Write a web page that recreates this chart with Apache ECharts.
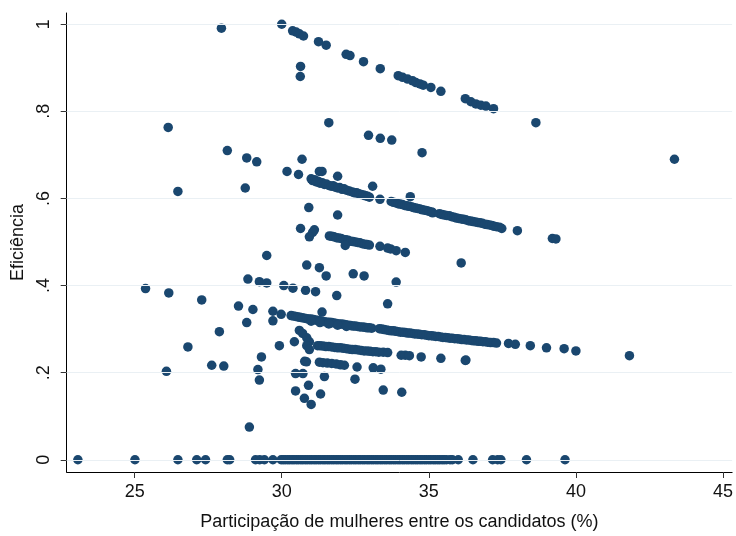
<!DOCTYPE html>
<html>
<head>
<meta charset="utf-8">
<script src="https://cdn.jsdelivr.net/npm/echarts@6/dist/echarts.min.js"></script>
<style>
html,body{margin:0;padding:0;background:#fff;}
#chart{width:736px;height:536px;}
</style>
</head>
<body>
<div id="chart"></div>
<script>
// Tick labels
var xTicks = [25, 30, 35, 40, 45];
var yTicks = [0, 0.2, 0.4, 0.6, 0.8, 1];
var yTickLabels = {"0": "0", "0.2": ".2", "0.4": ".4", "0.6": ".6", "0.8": ".8", "1": "1"};

// Points [participation %, efficiency]
var topLine = [[30.0,1.0],[30.37,0.985],[30.49,0.982],[30.6,0.978],[30.74,0.973],[31.25,0.96],[31.51,0.952],[32.19,0.931],[32.32,0.928],[32.78,0.914],[33.35,0.898],[33.96,0.882],[34.11,0.878],[34.28,0.874],[34.45,0.87],[34.56,0.866],[34.7,0.863],[34.81,0.86],[35.07,0.855],[35.41,0.846],[36.24,0.829],[36.43,0.822],[36.6,0.817],[36.77,0.814],[36.94,0.812],[37.2,0.806]];

var band64 = [[31.0,0.645],[31.05,0.641],[31.12,0.643],[31.18,0.638],[31.25,0.639],[31.3,0.635],[31.38,0.636],[31.45,0.632],[31.52,0.633],[31.6,0.63],[31.68,0.628],[31.75,0.629],[31.82,0.626],[31.9,0.624],[31.97,0.625],[32.05,0.621],[32.12,0.622],[32.2,0.619],[32.3,0.617],[32.4,0.615],[32.48,0.613],[32.55,0.613],[32.62,0.611],[32.7,0.609],[32.78,0.608],[32.85,0.606],[32.92,0.605],[32.98,0.603],[33.34,0.598],[33.72,0.593],[33.8,0.591],[33.88,0.59],[33.95,0.588],[34.02,0.587],[34.1,0.586],[34.18,0.584],[34.25,0.583],[34.32,0.582],[34.4,0.581],[34.48,0.579],[34.55,0.578],[34.62,0.577],[34.7,0.576],[34.78,0.574],[34.86,0.573],[34.94,0.572],[35.02,0.57],[35.1,0.569],[35.13,0.567],[35.36,0.565],[35.45,0.563],[35.52,0.562],[35.6,0.561],[35.7,0.56],[35.78,0.558],[35.86,0.557],[35.94,0.555],[36.02,0.554],[36.1,0.553],[36.18,0.552],[36.26,0.551],[36.34,0.549],[36.42,0.548],[36.5,0.547],[36.58,0.546],[36.66,0.545],[36.74,0.544],[36.82,0.543],[36.9,0.541],[36.98,0.54],[37.06,0.539],[37.14,0.538],[37.22,0.536],[37.3,0.535],[37.4,0.534],[37.48,0.531],[38.01,0.526],[39.2,0.508],[39.32,0.507]];

var band51 = [[31.62,0.514],[31.7,0.513],[31.78,0.512],[31.86,0.51],[31.94,0.509],[32.02,0.508],[32.1,0.506],[32.18,0.505],[32.26,0.504],[32.34,0.502],[32.42,0.501],[32.5,0.5],[32.58,0.499],[32.66,0.498],[32.74,0.496],[32.82,0.495],[32.9,0.494],[32.98,0.493],[32.16,0.492],[33.34,0.49],[33.6,0.486],[33.7,0.484],[33.89,0.48],[34.2,0.476]];

var band33 = [[30.32,0.331],[30.4,0.33],[30.48,0.329],[30.55,0.328],[30.62,0.327],[30.7,0.326],[30.78,0.325],[30.85,0.324],[30.92,0.323],[31.0,0.323],[31.08,0.322],[31.15,0.321],[31.22,0.32],[31.3,0.319],[31.38,0.318],[31.46,0.317],[31.54,0.316],[31.62,0.316],[31.7,0.315],[31.78,0.314],[31.86,0.313],[31.94,0.312],[32.02,0.312],[32.1,0.311],[32.18,0.31],[32.26,0.309],[32.34,0.308],[32.42,0.307],[32.5,0.307],[32.58,0.306],[32.66,0.305],[32.74,0.305],[32.82,0.304],[32.9,0.303],[32.98,0.303],[33.06,0.302],[31.0,0.318],[31.3,0.315],[31.6,0.312],[31.9,0.309],[32.2,0.306],[33.32,0.301],[33.4,0.3],[33.48,0.299],[33.56,0.298],[33.64,0.297],[33.72,0.296],[33.8,0.296],[33.88,0.295],[33.96,0.294],[34.04,0.293],[34.12,0.293],[34.2,0.292],[34.28,0.291],[34.36,0.291],[34.44,0.29],[34.52,0.289],[34.6,0.289],[34.68,0.288],[34.76,0.287],[34.84,0.287],[34.92,0.286],[35.0,0.285],[35.08,0.285],[35.16,0.284],[35.24,0.283],[35.32,0.283],[35.4,0.282],[35.48,0.281],[35.56,0.281],[35.64,0.28],[35.72,0.279],[35.8,0.279],[35.88,0.278],[35.96,0.278],[36.04,0.277],[36.12,0.276],[36.2,0.276],[36.28,0.275],[36.36,0.275],[36.44,0.274],[36.52,0.273],[36.6,0.273],[36.68,0.272],[36.76,0.272],[36.84,0.271],[36.92,0.271],[37.0,0.27],[37.1,0.269],[37.2,0.269],[37.3,0.268],[37.71,0.267],[37.94,0.265],[38.45,0.262],[39.0,0.257],[39.6,0.255],[40.0,0.25]];

var band26 = [[31.22,0.262],[31.3,0.262],[31.4,0.261],[31.5,0.26],[31.6,0.26],[31.7,0.259],[31.8,0.258],[31.9,0.257],[32.0,0.257],[32.1,0.256],[32.2,0.255],[32.3,0.254],[32.4,0.253],[32.5,0.253],[32.6,0.252],[32.7,0.251],[32.8,0.25],[32.9,0.25],[33.0,0.249],[33.1,0.248],[33.2,0.248],[33.3,0.247],[33.45,0.247],[33.6,0.246],[34.06,0.24],[34.2,0.24],[34.34,0.239],[34.74,0.236],[35.41,0.233],[36.26,0.229]];

var band22 = [[30.78,0.226],[30.84,0.225],[31.28,0.224],[31.4,0.223],[31.55,0.222],[31.7,0.221],[31.85,0.22],[32.0,0.218],[32.13,0.217],[32.56,0.213],[33.11,0.211],[33.37,0.208]];

var scattered = [[27.95,0.991],[30.64,0.903],[30.63,0.88],[31.6,0.774],[38.64,0.774],[26.14,0.763],[28.15,0.71],[32.95,0.745],[33.35,0.738],[33.74,0.734],[34.77,0.705],[43.35,0.69],
[28.81,0.693],[29.15,0.684],[30.69,0.69],[30.18,0.662],[30.57,0.655],[31.28,0.662],[31.37,0.662],[31.9,0.651],[28.76,0.624],[33.09,0.628],[34.37,0.604],[26.47,0.616],
[30.92,0.579],[31.9,0.562],[30.64,0.531],[31.11,0.528],[31.05,0.522],[30.94,0.512],
[29.49,0.469],[36.1,0.452],[30.85,0.447],[31.28,0.441],[31.51,0.422],[32.43,0.427],[32.8,0.422],[33.89,0.408],[28.85,0.415],[29.24,0.409],[29.49,0.406],[30.07,0.4],[30.38,0.394],[30.81,0.389],[31.15,0.386],[31.87,0.377],[33.6,0.358],
[25.37,0.393],[26.16,0.383],[27.28,0.367],[28.53,0.353],[29.02,0.345],[29.7,0.341],[29.7,0.319],[28.81,0.315],[29.98,0.334],[31.37,0.339],[27.88,0.294],[26.81,0.259],[26.08,0.203],[27.62,0.217],[28.03,0.215],
[30.6,0.297],[30.71,0.29],[30.85,0.28],[30.94,0.271],[30.85,0.262],[30.94,0.253],[30.43,0.271],[29.92,0.262],[29.31,0.236],[36.24,0.228],[41.82,0.239],
[29.19,0.207],[29.24,0.183],[30.47,0.198],[30.72,0.198],[31.45,0.191],[32.49,0.185],[30.91,0.171],[30.47,0.158],[30.77,0.141],[31.0,0.127],[31.32,0.151],[33.45,0.16],[34.08,0.155],[28.9,0.075]];

// Points with zero efficiency (x values)
var zeroRowX = [23.07,25.01,26.47,27.11,27.41,28.15,28.23,29.11,29.25,29.41,29.7,29.98,30.05,30.12,30.2,30.27,30.35,30.42,30.5,30.57,30.65,30.72,30.8,30.87,30.95,31.02,31.1,31.17,31.25,31.32,31.4,31.47,31.55,31.62,31.7,31.77,31.85,31.92,32.0,32.07,32.15,32.22,32.3,32.37,32.45,32.52,32.6,32.67,32.75,32.82,32.9,32.97,33.05,33.12,33.2,33.27,33.35,33.42,33.5,33.57,33.65,33.72,33.8,33.87,33.95,34.02,34.1,34.17,34.25,34.32,34.4,34.47,34.55,34.62,34.7,34.77,34.85,34.92,35.0,35.07,35.15,35.22,35.3,35.37,35.45,35.52,35.6,35.72,35.8,36.0,36.5,37.17,37.34,37.45,38.32,39.63];

var zeroRow = zeroRowX.map(function (x) { return [x, 0]; });
var allPoints = [].concat(zeroRow, scattered, band22, band26, band33, band51, band64, topLine);

var chart = echarts.init(document.getElementById('chart'), null, {renderer: 'canvas'});
var txt = '#111111';
var font = 'Liberation Sans, Arial, sans-serif';
chart.setOption({
  animation: false,
  backgroundColor: '#ffffff',
  grid: {left: 66.7, right: 1, top: 13, bottom: 62, containLabel: false},
  xAxis: {
    type: 'value',
    min: 22.69, max: 45.31,
    interval: 5,
    name: 'Participação de mulheres entre os candidatos (%)',
    nameLocation: 'middle',
    nameGap: 41,
    nameTextStyle: {fontFamily: font, fontSize: 18, color: txt},
    axisLine: {show: true, onZero: false, lineStyle: {color: '#000', width: 1}},
    axisTick: {show: true, length: 6, lineStyle: {color: '#333'},
      customValues: xTicks},
    axisLabel: {fontFamily: font, fontSize: 18, color: txt, margin: 11,
      customValues: xTicks},
    splitLine: {show: false}
  },
  yAxis: {
    type: 'value',
    min: -0.0281, max: 1.0258,
    name: 'Eficiência',
    nameLocation: 'middle',
    nameGap: 40,
    nameRotate: 90,
    nameTextStyle: {fontFamily: font, fontSize: 18, color: txt},
    axisLine: {show: true, onZero: false, lineStyle: {color: '#000', width: 1}},
    axisTick: {show: true, length: 6, lineStyle: {color: '#333'}, customValues: yTicks},
    axisLabel: {fontFamily: font, fontSize: 18, color: txt, margin: 14, rotate: 90,
      customValues: yTicks,
      formatter: function (v) { var k = String(Math.round(v * 10) / 10); return yTickLabels[k] !== undefined ? yTickLabels[k] : ''; }},
    splitLine: {show: false}
  },
  series: [
    {
      type: 'line',
      data: [],
      markLine: {
        silent: true, symbol: 'none', label: {show: false},
        lineStyle: {color: '#eaf0f4', width: 1, type: 'solid'},
        data: yTicks.map(function (t) { return {yAxis: t}; })
      }
    },
    {
      type: 'scatter',
      symbol: 'circle',
      symbolSize: 9.5,
      itemStyle: {color: '#1a476f', opacity: 1},
      data: allPoints,
      z: 3
    }
  ]
});
</script>
</body>
</html>
